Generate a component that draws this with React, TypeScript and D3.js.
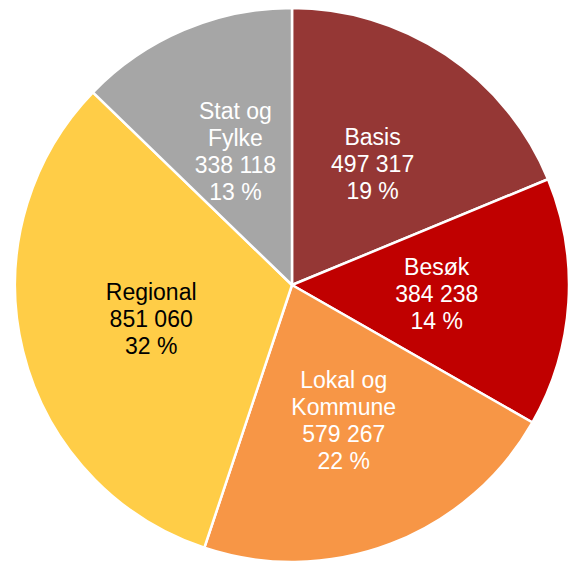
import React from "react";
import * as d3 from "d3";

const categories = ["Basis", "Besøk", "Lokal og Kommune", "Regional", "Stat og Fylke"];
const labelLines = [["Basis"], ["Besøk"], ["Lokal og", "Kommune"], ["Regional"], ["Stat og", "Fylke"]];
const values = [497317, 384238, 579267, 851060, 338118];
const colors = ["#953735", "#C00000", "#F79646", "#FFCD47", "#A6A6A6"];
const textColors = ["#ffffff", "#ffffff", "#ffffff", "#000000", "#ffffff"];

const W = 571;
const H = 562;
const cx = 292;
const cy = 285;
const R = 277;
const labelR = 145;
const fontSize = 23;
const lineH = 27;

const fmt = (v: number) => String(v).replace(/\B(?=(\d{3})+(?!\d))/g, " ");

export default function App() {
  const total = d3.sum(values);
  const data = categories.map((c, i) => ({ c, i, v: values[i] }));
  const pie = d3.pie<any>().value((d) => d.v).sort(null).startAngle(0).endAngle(2 * Math.PI);
  const arcs = pie(data);
  const arc = d3.arc<any>().innerRadius(0).outerRadius(R);
  const labelArc = d3.arc<any>().innerRadius(labelR).outerRadius(labelR);

  return (
    <svg width={W} height={H} style={{ position: "absolute", left: 0, top: 0 }}>
      <g transform={`translate(${cx},${cy})`}>
        {arcs.map((a) => (
          <path key={a.data.c} d={arc(a) as string} fill={colors[a.data.i]} stroke="#ffffff" strokeWidth={2.5} strokeLinejoin="round" />
        ))}
        {arcs.map((a) => {
          const [x, y] = labelArc.centroid(a);
          const lines = [...labelLines[a.data.i], fmt(a.data.v), `${Math.round((a.data.v / total) * 100)} %`];
          const y0 = y - ((lines.length - 1) * lineH) / 2;
          return (
            <text
              key={"t" + a.data.c}
              x={x}
              y={y0}
              textAnchor="middle"
              dominantBaseline="central"
              fontFamily="'Liberation Sans', Arial, sans-serif"
              fontSize={fontSize}
              fill={textColors[a.data.i]}
            >
              {lines.map((l, k) => (
                <tspan key={k} x={x} y={y0 + k * lineH}>
                  {l}
                </tspan>
              ))}
            </text>
          );
        })}
      </g>
    </svg>
  );
}
